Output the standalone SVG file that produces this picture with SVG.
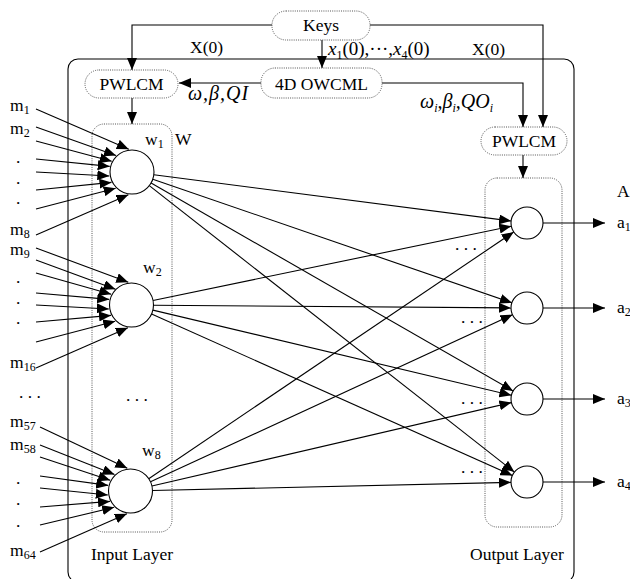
<svg xmlns="http://www.w3.org/2000/svg" width="630" height="579" viewBox="0 0 630 579">
<style>
.t{font-family:"Liberation Serif","Times New Roman",serif;font-size:17.5px;fill:#000}
.i{font-style:italic}
.dbox{fill:#fff;stroke:#555;stroke-width:1;stroke-dasharray:1 1.2}
.lay{fill:none;stroke:#555;stroke-width:1;stroke-dasharray:1 1.2}
.ln{fill:none;stroke:#000;stroke-width:1.1}
.ar{marker-end:url(#ah)}
.nr{fill:#fff;stroke:#000;stroke-width:1.1}
</style>
<defs>
<marker id="ah" markerUnits="userSpaceOnUse" markerWidth="12" markerHeight="10" refX="12" refY="5" orient="auto">
<path d="M0,0 L12,5 L0,10 z" fill="#000"/>
</marker>
</defs>
<rect width="630" height="579" fill="#fff"/>

<g id="outer">
<rect x="68" y="59" width="506" height="523" rx="10" fill="none" stroke="#000" stroke-width="1.1"/>
</g>
<g id="input-layer">
<rect class="lay" x="92" y="124" width="80" height="408" rx="12"/>
<text class="t" x="91" y="560">Input Layer</text>
<text class="t" x="175" y="145">W</text>
<text class="t" x="126" y="401">. . .</text>
</g>
<g id="output-layer">
<rect class="lay" x="485" y="178" width="77" height="349" rx="12"/>
<text class="t" x="470" y="560">Output Layer</text>
<text class="t" x="617" y="197">A</text>
</g>

<g id="connectors">
<!-- top -->
<path class="ln ar" d="M272,25 H132 V70"/>
<path class="ln ar" d="M370,25 H543 V127"/>
<path class="ln ar" d="M322,40 V68"/>
<path class="ln ar" d="M261,83 H179"/>
<path class="ln ar" d="M382,83 H523 V127"/>
<path class="ln ar" d="M132,98 V124"/>
<path class="ln ar" d="M523,155 V178"/>
<!-- inputs group 1 -->
<path class="ln ar" d="M36,109 L128.8,149.2"/>
<path class="ln ar" d="M36,127 L116,155.5"/>
<path class="ln ar" d="M36,141 L111.7,161.2"/>
<path class="ln ar" d="M36,159 L109.7,166.4"/>
<path class="ln ar" d="M36,172 L109.3,176"/>
<path class="ln ar" d="M36,190 L111.5,182.4"/>
<path class="ln ar" d="M36,209 L115.7,188.3"/>
<path class="ln ar" d="M36,235 L128.4,194.7"/>
<!-- inputs group 2 -->
<path class="ln ar" d="M36,248 L128.3,282.2"/>
<path class="ln ar" d="M36,260 L115.5,289.2"/>
<path class="ln ar" d="M36,273 L111.2,294.2"/>
<path class="ln ar" d="M36,293 L109.2,299.4"/>
<path class="ln ar" d="M36,305 L108.8,309"/>
<path class="ln ar" d="M36,322 L111,315.4"/>
<path class="ln ar" d="M36,342 L115.2,321.3"/>
<path class="ln ar" d="M36,368 L127.9,327.7"/>
<!-- inputs group 3 -->
<path class="ln ar" d="M40,427 L127.3,468.2"/>
<path class="ln ar" d="M40,445 L114.5,474.5"/>
<path class="ln ar" d="M40,457 L110.2,480.2"/>
<path class="ln ar" d="M40,476 L108.2,485.4"/>
<path class="ln ar" d="M40,488 L107.8,495"/>
<path class="ln ar" d="M40,507 L110,501.4"/>
<path class="ln ar" d="M40,525 L114.2,507.3"/>
<path class="ln ar" d="M40,552 L126.9,513.7"/>
<!-- hidden to output -->
<path class="ln ar" d="M153.8,174.8 L511.1,221"/>
<path class="ln ar" d="M152.8,179.2 L511.9,302.8"/>
<path class="ln ar" d="M151.1,183 L513.1,391"/>
<path class="ln ar" d="M149.3,185.6 L514.4,472.1"/>
<path class="ln ar" d="M153,300.5 L511.3,226.2"/>
<path class="ln ar" d="M153.5,305.2 L511,307.9"/>
<path class="ln ar" d="M152.9,310.1 L511.4,395.3"/>
<path class="ln ar" d="M151.6,314 L512.4,475.5"/>
<path class="ln ar" d="M148.7,478.7 L513.7,232"/>
<path class="ln ar" d="M150.5,481.8 L512.5,314.7"/>
<path class="ln ar" d="M151.9,486 L511.4,402.6"/>
<path class="ln ar" d="M152.5,490.5 L511,482.4"/>
<!-- outputs -->
<path class="ln ar" d="M543,223 H605"/>
<path class="ln ar" d="M543,308 H605"/>
<path class="ln ar" d="M543,399 H605"/>
<path class="ln ar" d="M543,482 H605"/>
</g>

<g id="keys">
<rect class="dbox" x="272" y="11" width="98" height="29" rx="14"/>
<text class="t" x="321" y="31" text-anchor="middle">Keys</text>
</g>
<g id="owcml">
<rect class="dbox" x="261" y="68" width="121" height="30" rx="14"/>
<text class="t" x="321.5" y="90" text-anchor="middle">4D OWCML</text>
</g>
<g id="pwlcm-left">
<rect class="dbox" x="85" y="70" width="93" height="28" rx="14"/>
<text class="t" x="131.5" y="90" text-anchor="middle">PWLCM</text>
</g>
<g id="pwlcm-right">
<rect class="dbox" x="481" y="127" width="86" height="28" rx="14"/>
<text class="t" x="524" y="147" text-anchor="middle">PWLCM</text>
</g>

<g id="edge-labels">
<text class="t" x="190" y="53">X(0)</text>
<text class="t" x="472" y="55">X(0)</text>
<text class="t" x="328" y="55" style="font-size:19px"><tspan class="i">x</tspan><tspan font-size="12" dy="4">1</tspan><tspan dy="-4">(0),···,</tspan><tspan class="i">x</tspan><tspan font-size="12" dy="4">4</tspan><tspan dy="-4">(0)</tspan></text>
<text class="t i" x="188" y="100" style="font-size:20px" letter-spacing="1">ω,β,QI</text>
<text class="t i" x="420" y="108" style="font-size:20px">ω<tspan font-size="12" dy="4">i</tspan><tspan dy="-4">,β</tspan><tspan font-size="12" dy="4">i</tspan><tspan dy="-4">,QO</tspan><tspan font-size="12" dy="4">i</tspan></text>
</g>

<g id="input-labels">
<text class="t" x="10" y="111">m<tspan font-size="12" dy="3">1</tspan></text>
<text class="t" x="10" y="134">m<tspan font-size="12" dy="3">2</tspan></text>
<text class="t" x="16" y="163">.</text>
<text class="t" x="16" y="184">.</text>
<text class="t" x="16" y="204">.</text>
<text class="t" x="10" y="235">m<tspan font-size="12" dy="3">8</tspan></text>
<text class="t" x="10" y="255">m<tspan font-size="12" dy="3">9</tspan></text>
<text class="t" x="16" y="283">.</text>
<text class="t" x="16" y="304">.</text>
<text class="t" x="16" y="324">.</text>
<text class="t" x="10" y="368">m<tspan font-size="12" dy="3">16</tspan></text>
<text class="t" x="19" y="398">. . .</text>
<text class="t" x="10" y="427">m<tspan font-size="12" dy="3">57</tspan></text>
<text class="t" x="10" y="450">m<tspan font-size="12" dy="3">58</tspan></text>
<text class="t" x="16" y="484">.</text>
<text class="t" x="16" y="505">.</text>
<text class="t" x="16" y="527">.</text>
<text class="t" x="10" y="556">m<tspan font-size="12" dy="3">64</tspan></text>
</g>

<g id="w1">
<circle class="nr" cx="132" cy="172" r="22"/>
<text class="t" x="145" y="145">w<tspan font-size="12" dy="3">1</tspan></text>
</g>
<g id="w2">
<circle class="nr" cx="131.5" cy="305" r="22"/>
<text class="t" x="143" y="273">w<tspan font-size="12" dy="3">2</tspan></text>
</g>
<g id="w8">
<circle class="nr" cx="130.5" cy="491" r="22"/>
<text class="t" x="142" y="456">w<tspan font-size="12" dy="3">8</tspan></text>
</g>

<g id="o1">
<circle class="nr" cx="527" cy="223" r="16"/>
<text class="t" x="455" y="250">. . .</text>
<text class="t" x="617" y="228">a<tspan font-size="12" dy="3">1</tspan></text>
</g>
<g id="o2">
<circle class="nr" cx="527" cy="308" r="16"/>
<text class="t" x="461" y="323">. . .</text>
<text class="t" x="617" y="313">a<tspan font-size="12" dy="3">2</tspan></text>
</g>
<g id="o3">
<circle class="nr" cx="527" cy="399" r="16"/>
<text class="t" x="461" y="404">. . .</text>
<text class="t" x="617" y="404">a<tspan font-size="12" dy="3">3</tspan></text>
</g>
<g id="o4">
<circle class="nr" cx="527" cy="482" r="16"/>
<text class="t" x="461" y="473">. . .</text>
<text class="t" x="617" y="487">a<tspan font-size="12" dy="3">4</tspan></text>
</g>
</svg>
